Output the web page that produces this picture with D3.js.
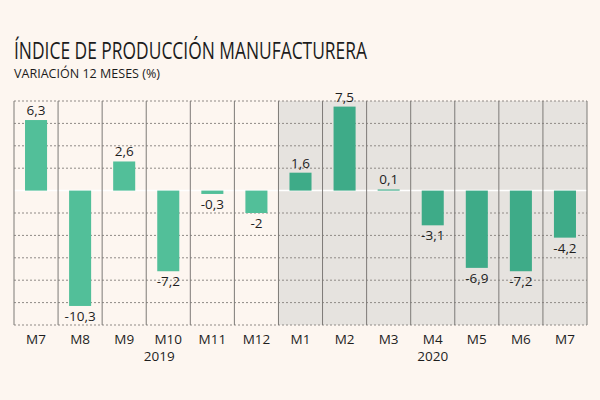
<!DOCTYPE html>
<html><head><meta charset="utf-8">
<script src="https://cdn.jsdelivr.net/npm/d3@7"></script>
<style>
html,body{margin:0;padding:0;background:#fdf6f0;}
svg{display:block;}
</style></head>
<body>
<svg id="chart" width="600" height="400"></svg>
<script>
const months = ["M7","M8","M9","M10","M11","M12","M1","M2","M3","M4","M5","M6","M7"];
const years  = ["2019","2019","2019","2019","2019","2019","2020","2020","2020","2020","2020","2020","2020"];
const values = [6.3,-10.3,2.6,-7.2,-0.3,-2,1.6,7.5,0.1,-3.1,-6.9,-7.2,-4.2];
const yTicks = [-12,-10,-8,-6,-4,-2,0,2,4,6,8];
const yearLabels = [{year:"2019", at:3}, {year:"2020", at:9}];

(function(){
const svg = d3.select("#chart");
const W = 600, H = 400;
const pLeft = 14, pRight = 587, pTop = 101, pBottom = 325;
const idx = months.map((d,i)=>i);

svg.append("rect").attr("width",W).attr("height",H).attr("fill","#fdf6f0");

const x = d3.scaleBand().domain(idx).range([pLeft,pRight]).paddingInner(0).paddingOuter(0);
const y = d3.scaleLinear().domain([-12,8]).range([pBottom,pTop]);

// shaded 2020 region
const first2020 = years.indexOf("2020");
svg.append("rect")
  .attr("x", x(first2020)).attr("y", pTop)
  .attr("width", pRight - x(first2020)).attr("height", pBottom - pTop)
  .attr("fill","#e6e3df");

// horizontal dotted grid
svg.append("g").selectAll("line").data(yTicks.filter(t=>t!==0)).join("line")
  .attr("x1", pLeft).attr("x2", pRight)
  .attr("y1", d=>y(d)).attr("y2", d=>y(d))
  .attr("stroke","#8f8a86").attr("stroke-width",1).attr("stroke-dasharray","2,2");

// zero line
svg.append("line").attr("x1",pLeft).attr("x2",pRight)
  .attr("y1",y(0)).attr("y2",y(0))
  .attr("stroke","#ffffff").attr("stroke-width",1.5);

// vertical column lines
const bounds = idx.map(i=>x(i)).concat([pRight]);
svg.append("g").selectAll("line").data(bounds).join("line")
  .attr("x1",d=>d).attr("x2",d=>d)
  .attr("y1",pTop).attr("y2",pBottom)
  .attr("stroke","#7d7a77").attr("stroke-width",1);

// bars
const bw = x.bandwidth()*0.5;
svg.append("g").selectAll("rect").data(values).join("rect")
  .attr("x",(d,i)=>x(i)+(x.bandwidth()-bw)/2)
  .attr("width",bw)
  .attr("y",d=>y(Math.max(0,d)))
  .attr("height",d=>Math.abs(y(d)-y(0)))
  .attr("fill",(d,i)=>years[i]==="2019" ? "#52bf99" : "#3eab88");

// value labels
const fmt = v => String(v).replace(".",",");
svg.append("g").selectAll("text").data(values).join("text")
  .attr("x",(d,i)=>x(i)+x.bandwidth()/2)
  .attr("y",d=> d>=0 ? y(d)-5 : y(d)+15)
  .attr("text-anchor","middle")
  .attr("font-family","'Open Sans', 'Noto Sans', sans-serif")
  .attr("font-size",13.5)
  .attr("fill","#1e1e1e")
  .text(d=>fmt(d));

// x axis labels
const xAxis = d3.axisBottom(x).tickSize(0).tickPadding(0).tickFormat(i=>months[i]);
const gx = svg.append("g").attr("transform",`translate(0,${pBottom+9})`).call(xAxis);
gx.select(".domain").remove();
gx.selectAll("text")
  .attr("dy", "0.71em")
  .attr("font-family","'Open Sans', 'Noto Sans', sans-serif")
  .attr("font-size",13.5)
  .attr("fill","#1e1e1e");

// year labels
svg.append("g").selectAll("text").data(yearLabels).join("text")
  .attr("x",d=> d.year==="2019" ? x(d.at)+x.bandwidth()/2-9 : x(d.at)+x.bandwidth()/2)
  .attr("y",361)
  .attr("text-anchor","middle")
  .attr("font-family","'Open Sans', 'Noto Sans', sans-serif")
  .attr("font-size",13.5)
  .attr("fill","#1e1e1e")
  .text(d=>d.year);

// title
svg.append("text").attr("x",14).attr("y",58.5)
  .attr("font-family","'Liberation Sans Narrow', 'Open Sans', sans-serif")
  .attr("font-size",23.5)
  .attr("fill","#1c1c1c")
  .attr("textLength",353).attr("lengthAdjust","spacingAndGlyphs")
  .text("ÍNDICE DE PRODUCCIÓN MANUFACTURERA");
svg.append("text").attr("x",14).attr("y",77.5)
  .attr("font-family","'Liberation Sans Narrow', 'Open Sans', sans-serif")
  .attr("font-size",12.5)
  .attr("fill","#1c1c1c")
  .attr("textLength",146).attr("lengthAdjust","spacingAndGlyphs")
  .text("VARIACIÓN 12 MESES (%)");
})();
</script>
</body></html>
